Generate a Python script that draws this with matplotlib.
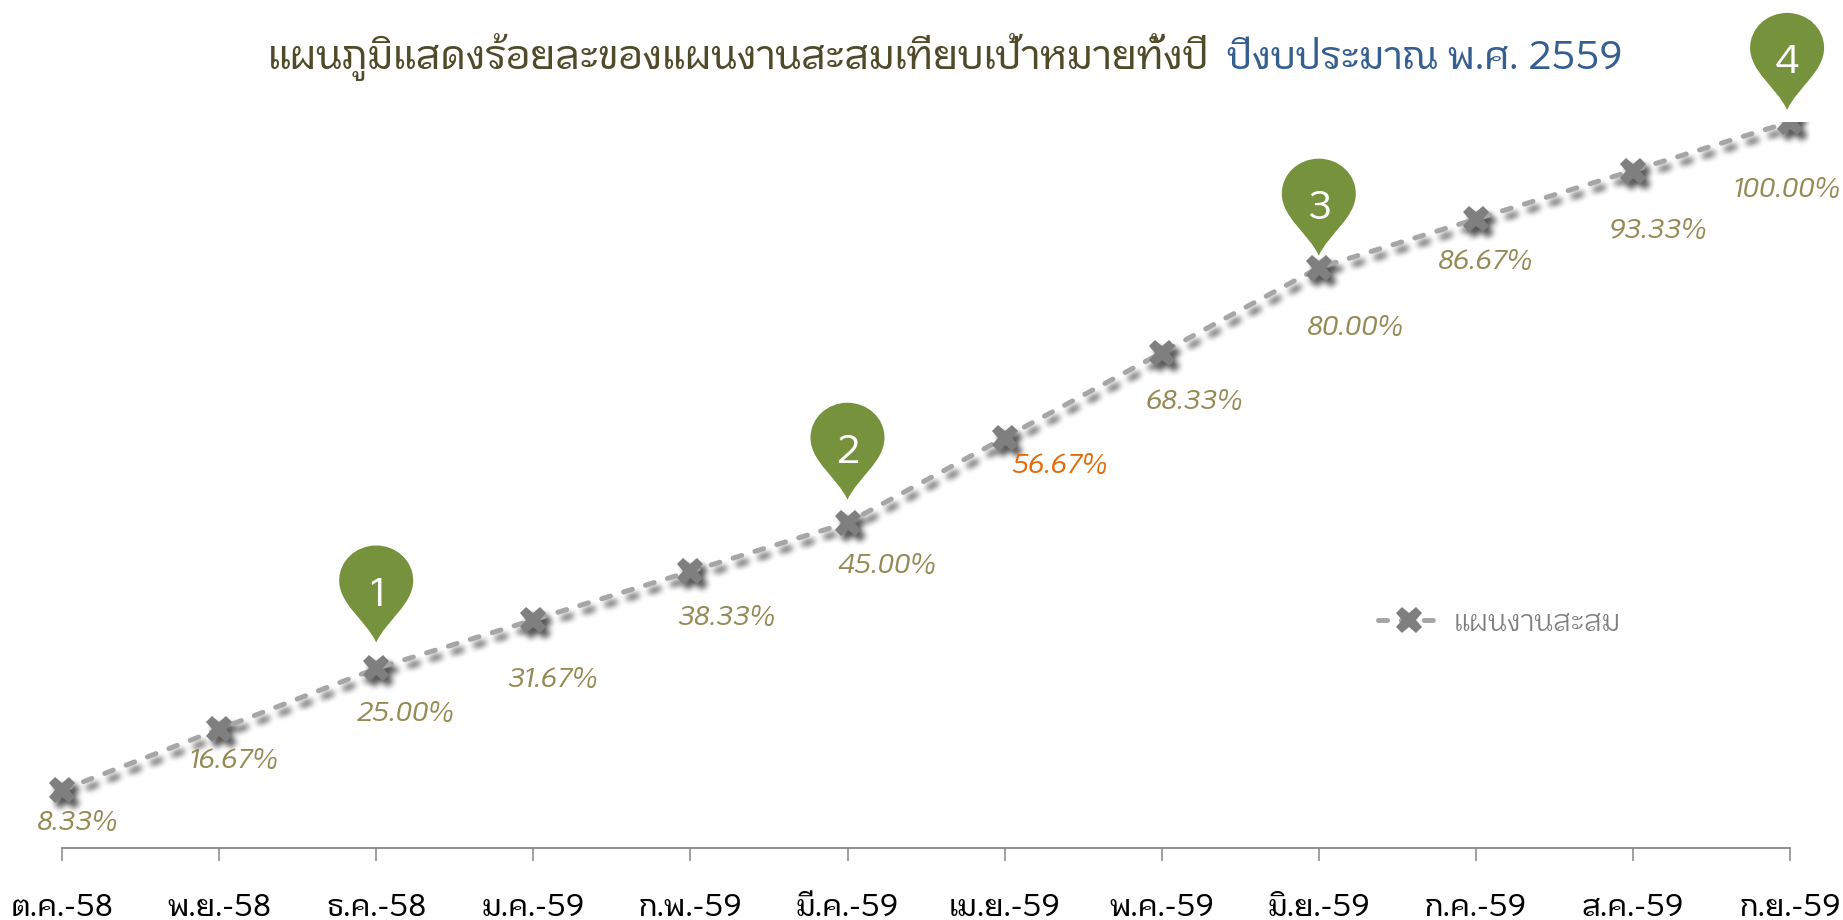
import numpy as np
import matplotlib
matplotlib.use('Agg')
import matplotlib.pyplot as plt
from matplotlib.patches import PathPatch, Rectangle
from matplotlib.path import Path
from matplotlib.transforms import Affine2D

months = ['ต.ค.-58', 'พ.ย.-58', 'ธ.ค.-58', 'ม.ค.-59', 'ก.พ.-59', 'มี.ค.-59',
          'เม.ย.-59', 'พ.ค.-59', 'มิ.ย.-59', 'ก.ค.-59', 'ส.ค.-59', 'ก.ย.-59']
plan = [8.33, 16.67, 25.00, 31.67, 38.33, 45.00, 56.67, 68.33, 80.00, 86.67, 93.33, 100.00]
series_name = 'แผนงานสะสม'
title_left = 'แผนภูมิแสดงร้อยละของแผนงานสะสมเทียบเป้าหมายทั้งปี'
title_right = 'ปีงบประมาณ พ.ศ. 2559'

pin_months = [2, 5, 8, 11]
pin_labels = ['1', '2', '3', '4']

# hand placed in the original, so offsets are in pixels from each point
label_dx = [15, 14, 29, 19, 36, 39, 55, 32, 36, 9, 25, -4]
label_dy = [33, 32, 46, 60, 47, 43, 28, 49, 60, 43, 60, 68]
pin_dx = [0, 0, 0, -3]
pin_gap = [26, 23, 12, 12]

FONT = 'KoHo'
W, H = 1843, 920
FIGSIZE = ((W + 0.1) / 100, (H + 0.1) / 100)
TOP, BOTTOM, LEFT, RIGHT = 122, 848, 62, 1790
CLIP_RIGHT = 1810
LINE_DASH = (0, (6.5, 10))

plt.rcParams['lines.scale_dashes'] = False
plt.rcParams['font.family'] = [FONT, 'DejaVu Sans']
x = list(range(len(months)))


def new_axes(figure):
    a = figure.add_axes([LEFT / W, 1 - BOTTOM / H, (RIGHT - LEFT) / W, (BOTTOM - TOP) / H])
    a.set_xlim(0, len(months) - 1)
    a.set_ylim(0.37, 100)
    a.patch.set_visible(False)
    return a


def draw_series(a, **kw):
    return a.plot(x, plan, lw=3.6, ls=LINE_DASH, dash_capstyle='round', marker='X',
                  ms=19, mew=0, clip_on=False, **kw)[0]


def blur(img, radius, passes):
    kernel = np.ones(2 * radius + 1) / (2 * radius + 1)
    for _ in range(passes):
        img = np.apply_along_axis(np.convolve, 0, img, kernel, mode='same')
        img = np.apply_along_axis(np.convolve, 1, img, kernel, mode='same')
    return img


# soft shadow: draw the series on its own, blur it and put it under the chart
sfig = plt.figure(figsize=FIGSIZE, dpi=100)
sax = new_axes(sfig)
sax.axis('off')
draw_series(sax, color='black')
sfig.canvas.draw()
mask = 1 - np.asarray(sfig.canvas.buffer_rgba())[:, :, 0] / 255.0
plt.close(sfig)
mask = np.roll(mask, (6, 5), axis=(0, 1))
mask = blur(mask, 3, 2)
mask[:TOP, :] = 0
mask[:, CLIP_RIGHT:] = 0
shadow = np.zeros(mask.shape + (4,))
shadow[:, :, 3] = mask * 0.68

fig = plt.figure(figsize=FIGSIZE, dpi=100)
fig.figimage(shadow, 0, 0, origin='upper', zorder=1)
ax = new_axes(fig)
ax.set_zorder(2)

# the plot area cuts the last marker at the top
clip = Rectangle((0, 0), 1, 1 - TOP / H, transform=fig.transFigure)
line = draw_series(ax, color='#a6a6a6', mfc='#7f7f7f', label=series_name, zorder=3)
line.set_clip_on(True)
line.set_clip_path(clip)

for i, v in enumerate(plan):
    colour = '#e36c0a' if i == 6 else '#948a54'
    ax.annotate('%.2f%%' % v, (i, v), xytext=(label_dx[i], -label_dy[i]),
                textcoords='offset pixels', ha='center', va='center', color=colour,
                fontsize=19.5, style='italic', weight='medium', annotation_clip=False, zorder=4)

# map pins, drawn in pixels with the tip at (0, 0)
pin_codes = [Path.MOVETO] + [Path.CURVE4] * 12
pin_verts = [(0, 0), (-10, 22), (-37, 38), (-37, 62), (-37, 82), (-20, 97), (0, 97),
             (20, 97), (37, 82), (37, 62), (37, 38), (10, 22), (0, 0)]
pin_path = Path(pin_verts, pin_codes)

for k, i in enumerate(pin_months):
    px, py = ax.transData.transform((i, plan[i]))
    px += pin_dx[k]
    py += pin_gap[k]
    ax.add_patch(PathPatch(pin_path, fc='#76923c', ec='none', clip_on=False, zorder=5,
                           transform=Affine2D().translate(px, py)))
    fig.text(px / W, (py + 47) / H, pin_labels[k], color='white', fontsize=28,
             weight='medium', ha='center', va='center', zorder=6)

for side in ['top', 'left', 'right']:
    ax.spines[side].set_visible(False)
ax.spines['bottom'].set_color('#868686')
ax.spines['bottom'].set_linewidth(1.3)
ax.set_yticks([])
ax.set_xticks(x)
ax.set_xticklabels(months, fontsize=22, color='black', weight='medium')
ax.tick_params(axis='x', length=9.5, width=1.1, color='#868686', pad=23)

fig.text(268 / W, 1 - 69 / H, title_left, color='#4f4a28', fontsize=28.6, weight='medium',
         ha='left', va='baseline')
fig.text(1227 / W, 1 - 69 / H, title_right, color='#365f91', fontsize=27.7, weight='medium',
         ha='left', va='baseline')

ax.legend(handles=[line], loc='center left', bbox_to_anchor=(1378 / W, 1 - 623 / H),
          bbox_transform=fig.transFigure, frameon=False, fontsize=21,
          labelcolor='#7f7f7f', handlelength=2.13, handletextpad=0.45, borderpad=0, borderaxespad=0)

fig.savefig('out.png', dpi=100)
